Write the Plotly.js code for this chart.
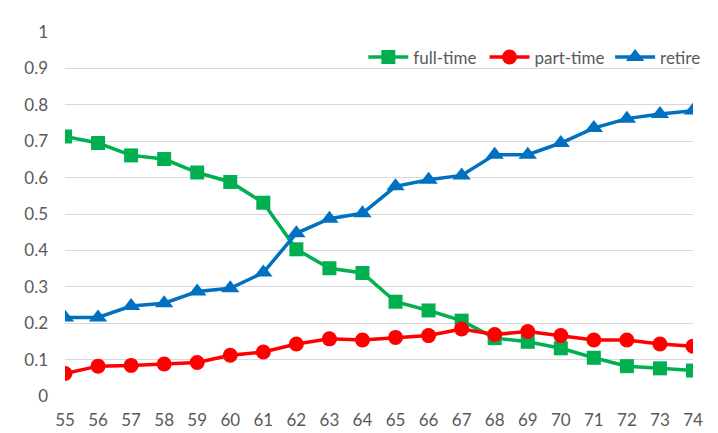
<!DOCTYPE html>
<html>
<head>
<meta charset="utf-8">
<script src="https://cdn.plot.ly/plotly-3.0.1.min.js"></script>
<style>html,body{margin:0;padding:0;background:#fff;}#chart{width:718px;height:433px;}</style>
</head>
<body>
<div id="chart"></div>
<script>
const ages = [55,56,57,58,59,60,61,62,63,64,65,66,67,68,69,70,71,72,73,74];
const fullTime = [0.713,0.695,0.661,0.651,0.614,0.588,0.531,0.403,0.351,0.338,0.259,0.235,0.207,0.159,0.149,0.131,0.105,0.082,0.076,0.070];
const partTime = [0.062,0.082,0.084,0.088,0.092,0.112,0.121,0.143,0.157,0.154,0.161,0.166,0.184,0.169,0.177,0.166,0.154,0.154,0.143,0.137];
const retire = [0.216,0.216,0.247,0.255,0.287,0.296,0.339,0.447,0.487,0.502,0.576,0.594,0.606,0.663,0.663,0.695,0.736,0.762,0.775,0.784];
const yTicks = [0,0.1,0.2,0.3,0.4,0.5,0.6,0.7,0.8,0.9,1];
const yTickText = ['0','0.1','0.2','0.3','0.4','0.5','0.6','0.7','0.8','0.9','1'];

const fontFam = 'Lato, sans-serif';
function series(name, y, color, symbol, size, legendId) {
  return {x: ages, y: y, name: name, type: 'scatter', mode: 'lines+markers', legend: legendId,
    line: {color: color, width: 3.5},
    marker: {color: color, symbol: symbol, size: size, line: {width: 0}}};
}
const data = [
  series('full-time', fullTime, '#00B050', 'square', 14, 'legend'),
  series('part-time', partTime, '#FF0000', 'circle', 15, 'legend2'),
  series('retire', retire, '#0070C0', 'triangle-up', 16, 'legend3')
];
function leg(x) {
  return {orientation: 'h', x: x, xanchor: 'left', y: 0.93, yanchor: 'middle',
    font: {family: fontFam, size: 17, color: '#595959'}, bgcolor: 'rgba(0,0,0,0)', itemwidth: 40};
}
const layout = {
  width: 718, height: 433,
  margin: {l: 65, r: 15, t: 32, b: 37},
  paper_bgcolor: '#fff', plot_bgcolor: '#fff',
  font: {family: fontFam, size: 17, color: '#595959'},
  showlegend: true,
  legend: leg(0.475),
  legend2: leg(0.668),
  legend3: leg(0.868),
  xaxis: {range: [55, 74], tickvals: ages, ticktext: ages.map(String), showgrid: false,
    zeroline: false, showline: false, ticks: '', ticklabelstandoff: 12, fixedrange: true},
  yaxis: {range: [0, 1], tickvals: yTicks, ticktext: yTickText, showgrid: true, gridcolor: '#D9D9D9',
    gridwidth: 1, zeroline: false, showline: false, ticks: '', ticklabelstandoff: 16, fixedrange: true}
};
Plotly.newPlot('chart', data, layout, {displayModeBar: false, staticPlot: true});
</script>
</body>
</html>
